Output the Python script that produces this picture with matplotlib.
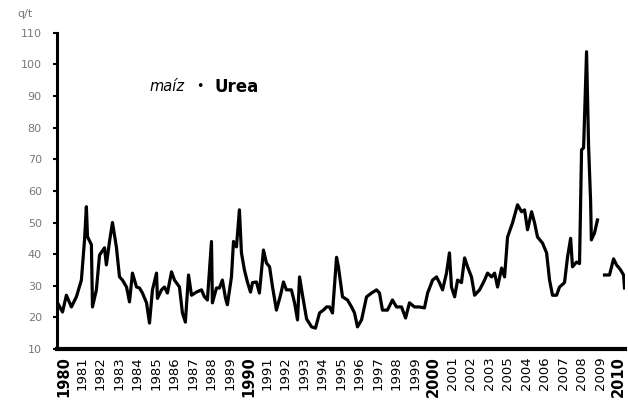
import numpy as np
import matplotlib
matplotlib.use("Agg")
import matplotlib.pyplot as plt

# maize/urea ratio (q/t); x in decimal years of the axis
years = [1979.68, 1979.95, 1980.16, 1980.43, 1980.70, 1980.97, 1981.14, 1981.24, 1981.30,
         1981.51, 1981.57, 1981.78, 1981.95, 1982.22, 1982.32, 1982.49, 1982.65, 1982.86,
         1983.03, 1983.19, 1983.41, 1983.57, 1983.73, 1983.95, 1984.11, 1984.27, 1984.49,
         1984.65, 1984.81, 1985.03, 1985.08, 1985.30, 1985.46, 1985.62, 1985.84, 1986.00,
         1986.27, 1986.43, 1986.59, 1986.76, 1986.92, 1987.19, 1987.46, 1987.62, 1987.78,
         1988.00, 1988.05, 1988.27, 1988.43, 1988.59, 1988.76, 1988.86, 1989.08, 1989.19,
         1989.35, 1989.51, 1989.62, 1989.78, 1989.95, 1990.11, 1990.22, 1990.43, 1990.59,
         1990.81, 1990.97, 1991.14, 1991.30, 1991.51, 1991.73, 1991.89, 1992.05, 1992.32,
         1992.49, 1992.65, 1992.76, 1992.92, 1993.14, 1993.41, 1993.62, 1993.84, 1994.05,
         1994.22, 1994.38, 1994.54, 1994.76, 1994.86, 1995.08, 1995.35, 1995.57, 1995.73,
         1995.89, 1996.11, 1996.38, 1996.65, 1996.92, 1997.08, 1997.24, 1997.51, 1997.78,
         1998.00, 1998.27, 1998.49, 1998.70, 1998.97, 1999.24, 1999.51, 1999.68, 1999.95,
         2000.16, 2000.32, 2000.49, 2000.70, 2000.86, 2000.97, 2001.14, 2001.30, 2001.51,
         2001.68, 2001.84, 2002.05, 2002.22, 2002.49, 2002.76, 2002.92, 2003.14, 2003.30,
         2003.46, 2003.68, 2003.84, 2004.00, 2004.27, 2004.54, 2004.76, 2004.92, 2005.08,
         2005.30, 2005.46, 2005.62, 2005.89, 2006.11, 2006.27, 2006.43, 2006.65, 2006.81,
         2007.08, 2007.24, 2007.41, 2007.51, 2007.73, 2007.89, 2008.00, 2008.11, 2008.27,
         2008.38, 2008.49, 2008.53, 2008.70, 2008.86,
         2009.05,
         2009.24, 2009.51, 2009.73, 2009.89, 2010.11, 2010.27, 2010.32]
ratio = [24.6, 21.7, 27.0, 23.3, 26.5, 31.8, 44.5, 55.0, 45.5,
         43.0, 23.3, 28.7, 39.7, 42.0, 36.6, 44.0, 50.0, 42.3,
         32.8, 31.8, 29.6, 24.9, 34.0, 29.6, 29.3, 27.7, 24.6,
         18.2, 28.7, 34.0, 26.0, 28.7, 29.6, 27.7, 34.4, 31.8,
         29.6, 21.4, 18.5, 33.4, 27.0, 28.0, 28.7, 26.5, 25.5,
         44.0, 24.6, 29.3, 29.3, 31.8, 26.0, 24.0, 32.8, 44.0,
         42.3, 54.0, 40.4, 35.0, 31.0, 28.0, 31.0, 31.2, 27.7,
         41.3, 37.2, 36.0, 29.6, 22.3, 27.0, 31.2, 28.7, 28.7,
         24.6, 19.2, 32.8, 27.0, 19.5, 17.0, 16.6, 21.4, 22.3,
         23.3, 23.3, 21.4, 39.0, 36.0, 26.5, 25.5, 23.3, 21.4,
         17.0, 19.2, 26.5, 27.7, 28.7, 27.7, 22.3, 22.3, 25.5,
         23.3, 23.3, 19.8, 24.6, 23.3, 23.3, 23.0, 27.7, 31.8,
         32.8, 31.0, 28.7, 34.0, 40.4, 29.6, 26.5, 31.8, 31.0,
         38.8, 36.0, 32.8, 27.0, 28.7, 31.8, 34.0, 32.8, 34.0,
         29.6, 35.6, 32.8, 45.4, 49.9, 55.6, 53.4, 54.0, 47.7,
         53.4, 49.9, 45.4, 43.5, 40.4, 31.8, 27.0, 27.0, 29.6,
         31.0, 39.0, 45.0, 36.0, 37.5, 37.0, 73.0, 73.6, 104.0,
         74.0, 56.5, 44.5, 46.7, 50.8,
         np.nan,
         33.4, 33.4, 38.5, 36.6, 35.0, 33.4, 29.3]

tick_years = list(range(1980, 2011))
tick_labels = ["1980", "1981", "1982", "1983", "1984", "1985", "1986", "1987", "1988",
               "1989", "1990", "1991", "1992", "1993", "1994", "1995", "1996", "1997",
               "1998", "1999", "2000", "2001", "2002", "2003", "2005", "2004", "2006",
               "2007", "2008", "2009", "2010"]
bold_labels = {"1980", "1990", "2000", "2010"}

fig = plt.figure(figsize=(6.28, 4.07), dpi=100)
ax = fig.add_axes([0.091, 0.1425, 0.904, 0.777])
ax.plot(years, ratio, color="black", linewidth=2.3, solid_joinstyle="round")

ax.set_xlim(1979.66, 2010.34)
ax.set_ylim(10, 110)
ax.set_yticks(range(10, 111, 10))
ax.tick_params(axis="y", labelsize=8, labelcolor="#777777", length=3, width=1.5,
               direction="out", color="black", pad=8)
ax.set_xticks(tick_years)
ax.set_xticklabels(tick_labels, rotation=90, fontsize=9.5)
ax.tick_params(axis="x", length=0, pad=5)
for lab in ax.get_xticklabels():
    if lab.get_text() in bold_labels:
        lab.set_fontweight("bold")
        lab.set_fontsize(10.5)

for s in ("top", "right"):
    ax.spines[s].set_visible(False)
ax.spines["left"].set_linewidth(2.2)
ax.spines["bottom"].set_linewidth(3.0)

fig.text(0.04, 0.965, "q/t", fontsize=8, color="#777777", ha="center", va="center")
ax.text(0.162, 0.83, "maíz", transform=ax.transAxes, fontsize=10.5, style="italic",
        ha="left", va="center")
ax.text(0.252, 0.83, "•", transform=ax.transAxes, fontsize=9, ha="center", va="center")
ax.text(0.278, 0.83, "Urea", transform=ax.transAxes, fontsize=12, fontweight="bold",
        ha="left", va="center")

fig.savefig("out.png", dpi=100)
